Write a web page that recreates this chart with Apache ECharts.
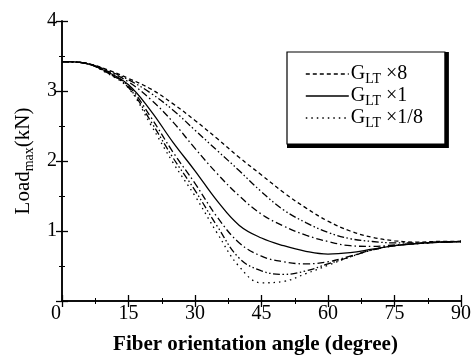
<!DOCTYPE html>
<html><head><meta charset="utf-8">
<script src="https://cdn.jsdelivr.net/npm/echarts@6/dist/echarts.min.js"></script>
<style>html,body{margin:0;padding:0;background:#fff}#c{width:474px;height:360px}</style>
</head><body><div id="c"></div>
<script>
const angles = [0,5,10,15,20,25,30,35,40,45,50,55,60,65,70,75,80,85,90];
const gx8   = [3.42,3.40,3.31,3.18,3.03,2.82,2.58,2.32,2.05,1.80,1.55,1.33,1.14,1.00,0.91,0.86,0.84,0.85,0.85];
const gx4   = [3.42,3.40,3.30,3.16,2.97,2.73,2.44,2.15,1.86,1.56,1.30,1.12,0.98,0.89,0.85,0.83,0.83,0.84,0.85];
const gx2   = [3.42,3.40,3.29,3.13,2.88,2.56,2.18,1.82,1.50,1.24,1.07,0.94,0.85,0.79,0.78,0.80,0.82,0.84,0.85];
const gx1   = [3.42,3.40,3.28,3.09,2.72,2.27,1.86,1.43,1.08,0.90,0.79,0.71,0.67,0.69,0.74,0.79,0.82,0.84,0.85];
const gx1_2 = [3.42,3.40,3.27,3.07,2.63,2.13,1.68,1.20,0.83,0.64,0.56,0.53,0.56,0.64,0.73,0.79,0.82,0.84,0.85];
const gx1_4 = [3.42,3.40,3.27,3.05,2.57,2.05,1.58,1.07,0.61,0.43,0.38,0.43,0.53,0.63,0.73,0.79,0.82,0.84,0.85];
const gx1_8 = [3.42,3.40,3.26,3.04,2.52,1.98,1.50,0.97,0.49,0.26,0.28,0.39,0.51,0.63,0.73,0.79,0.82,0.84,0.85];
const seriesNames = ['GLT×8','GLT×4','GLT×2','GLT×1','GLT×1/2','GLT×1/4','GLT×1/8'];
const seriesValues = [gx8,gx4,gx2,gx1,gx1_2,gx1_4,gx1_8];
const legendNames = ['GLT×8','GLT×1','GLT×1/8'];
const xTicks = [0,15,30,45,60,75,90];
const yTicks = [1,2,3,4];

const dashes = [[4,3],[7,2.5,1.5,2.5,1.5,2.5],[7,3,1.5,3],null,[7,3,1.5,3],[7,2.5,1.5,2.5,1.5,2.5],[1.5,4]];
const FONT = '"Liberation Serif","DejaVu Serif",serif';

const chart = echarts.init(document.getElementById('c'));
const axisCommon = {
  axisLine:{show:true,lineStyle:{color:'#000',width:1.5}},
  axisTick:{show:true,inside:true,length:6,lineStyle:{color:'#000',width:1.3}},
  minorTick:{show:true,splitNumber:2,length:3,lineStyle:{color:'#000',width:1}},
  splitLine:{show:false}
};
const legendBase = {
  data:legendNames,orient:'vertical',
  backgroundColor:'#fff',
  padding:[12,22,14,18],itemGap:0,itemWidth:43,itemHeight:14,
  itemStyle:{opacity:0,color:'rgba(0,0,0,0)',borderWidth:0},
  lineStyle:{width:1.6},
  formatter:n=>'{g|G}{s|LT}{t| ×'+n.split('×')[1]+'}',
  textStyle:{fontFamily:FONT,color:'#000',padding:[0,0,0,-3],
    rich:{g:{fontFamily:FONT,fontSize:20,color:'#000',lineHeight:24,verticalAlign:'middle'},
          s:{fontFamily:FONT,fontSize:14,color:'#000',lineHeight:14,verticalAlign:'bottom'},
          t:{fontFamily:FONT,fontSize:20,color:'#000',lineHeight:24,verticalAlign:'middle'}}}
};
chart.setOption({
  animation:false,
  backgroundColor:'#fff',
  grid:{left:62,right:11,top:21,bottom:55},
  xAxis:[
    Object.assign({type:'value',min:0,max:90,interval:15,position:'bottom',
      axisLabel:{fontFamily:FONT,fontSize:20,color:'#000',margin:3,
        formatter:v=>v===0?'{z|0}':(xTicks.includes(v)?String(v):''),
        rich:{z:{fontFamily:FONT,fontSize:20,color:'#000',padding:[0,12,0,0]}}},
      name:'Fiber orientation angle (degree)',nameLocation:'middle',nameGap:33,
      nameTextStyle:{fontFamily:FONT,fontSize:21,fontWeight:'bold',color:'#000',padding:[0,12,0,0]}},axisCommon),
    Object.assign({type:'value',min:0,max:90,interval:15,position:'top',axisLabel:{show:false}},axisCommon)
  ],
  yAxis:[
    Object.assign({type:'value',min:0,max:4,interval:1,position:'left',
      axisLabel:{fontFamily:FONT,fontSize:20,color:'#000',margin:5,
        formatter:v=>yTicks.includes(v)?String(v):''},
      name:'{a|Load}{s|max}{a|(kN)}',nameLocation:'middle',nameGap:24,
      nameTextStyle:{fontFamily:FONT,color:'#000',
        rich:{a:{fontFamily:FONT,fontSize:21,color:'#000',lineHeight:26,verticalAlign:'middle'},
              s:{fontFamily:FONT,fontSize:14,color:'#000',lineHeight:14,verticalAlign:'bottom'}}}},axisCommon),
    Object.assign({type:'value',min:0,max:4,interval:1,position:'right',axisLabel:{show:false}},axisCommon)
  ],
  legend:[
    Object.assign({}, legendBase, {z:3,left:289,top:54,borderColor:'#000',borderWidth:4}),
    Object.assign({}, legendBase, {z:6,left:287,top:52,borderColor:'#000',borderWidth:1.2})
  ],
  series:seriesNames.map((n,i)=>({
    name:n,type:'line',symbol:'none',smooth:0.4,
    xAxisIndex:0,yAxisIndex:0,
    lineStyle:{color:'#000',width:1.3,type:dashes[i]||'solid'},
    itemStyle:{color:'#000'},
    data:angles.map((a,j)=>[a,seriesValues[i][j]])
  }))
});
</script></body></html>
